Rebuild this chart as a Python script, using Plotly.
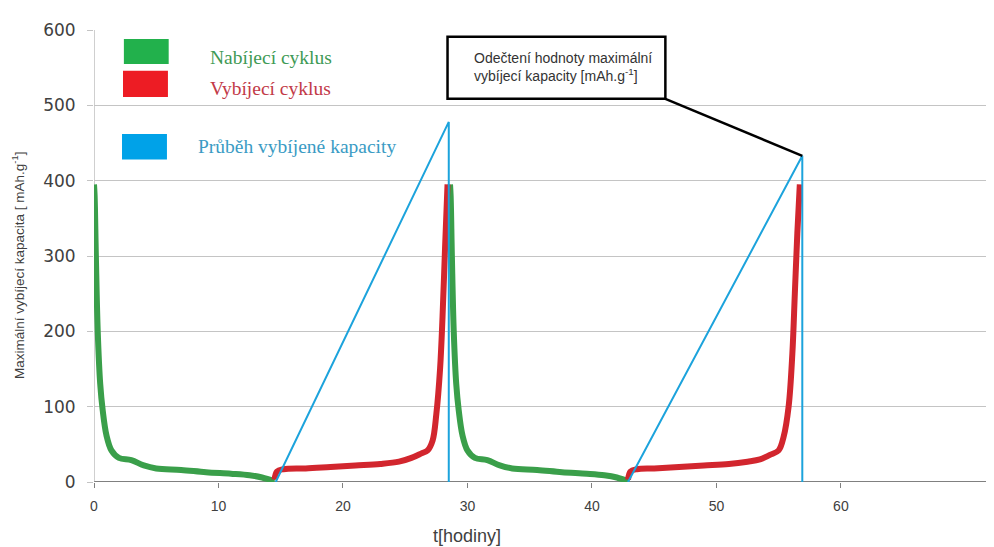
import plotly.graph_objects as go

# ---- data ----
charge1_t = [0, 0.05, 0.15, 0.3, 0.5, 0.7, 1.0, 1.4, 2.0, 3.0, 4.0, 5.0, 7.0, 9.0, 11.0, 12.5, 13.5, 14.5]
charge1_v = [395, 380, 300, 200, 130, 95, 62, 42, 32, 29, 22, 18, 16, 13, 11, 9, 6, 1]
charge2_t = [28.6, 28.65, 28.75, 28.9, 29.1, 29.3, 29.6, 30.0, 30.6, 31.6, 32.6, 33.6, 35.6, 37.6, 39.6, 41.0, 42.0, 42.9]
charge2_v = [395, 380, 300, 200, 130, 95, 62, 42, 32, 29, 22, 18, 16, 13, 11, 9, 6, 1]

discharge1_t = [14.5, 14.7, 15.2, 17, 19, 21, 23, 24.5, 25.5, 26.3, 26.8, 27.2, 27.5, 27.8, 28.0, 28.2, 28.4]
discharge1_v = [3, 14, 17, 18, 20, 22, 24, 27, 32, 38, 42, 55, 90, 150, 220, 310, 395]
discharge2_t = [42.9, 43.1, 43.6, 45, 47, 49, 51, 52.5, 53.5, 54.3, 55.0, 55.4, 55.8, 56.1, 56.3, 56.5, 56.7]
discharge2_v = [3, 14, 17, 18, 20, 22, 24, 27, 30, 36, 42, 60, 100, 170, 250, 330, 395]

capacity1_t = [14.6, 28.5, 28.5]
capacity1_v = [0, 478, 0]
capacity2_t = [42.9, 56.9, 56.9]
capacity2_v = [0, 433, 0]

x_ticks = [0, 10, 20, 30, 40, 50, 60]
y_ticks = [0, 100, 200, 300, 400, 500, 600]

GREEN = "#3a9f4a"
RED = "#d2262e"
BLUE = "#1ca3dc"

fig = go.Figure()
for t, v in [(charge1_t, charge1_v), (charge2_t, charge2_v)]:
    fig.add_trace(go.Scatter(x=t, y=v, mode="lines", line=dict(color=GREEN, width=6, shape="spline"),
                             showlegend=False, hoverinfo="skip"))
for t, v in [(discharge1_t, discharge1_v), (discharge2_t, discharge2_v)]:
    fig.add_trace(go.Scatter(x=t, y=v, mode="lines", line=dict(color=RED, width=6, shape="spline"),
                             showlegend=False, hoverinfo="skip"))
for t, v in [(capacity1_t, capacity1_v), (capacity2_t, capacity2_v)]:
    fig.add_trace(go.Scatter(x=t, y=v, mode="lines", line=dict(color=BLUE, width=2),
                             showlegend=False, hoverinfo="skip"))

# legend swatches (drawn manually)
shapes = [
    dict(type="rect", xref="x", yref="y", x0=2.4, x1=6.0, y0=555, y1=588, fillcolor="#22b14c", line=dict(width=0)),
    dict(type="rect", xref="x", yref="y", x0=2.33, x1=5.94, y0=511, y1=546, fillcolor="#ed1c24", line=dict(width=0)),
    dict(type="rect", xref="x", yref="y", x0=2.25, x1=5.86, y0=428, y1=462, fillcolor="#00a2e8", line=dict(width=0)),
    # callout box
    dict(type="rect", xref="x", yref="y", x0=28.4, x1=45.9, y0=508.6, y1=591, fillcolor="white",
         line=dict(color="black", width=2.5)),
    dict(type="line", xref="x", yref="y", x0=45.9, y0=508.6, x1=56.9, y1=433, line=dict(color="black", width=2.5)),
    # axis lines
    dict(type="line", xref="paper", yref="y", x0=0, x1=1, y0=0, y1=0, line=dict(color="#808080", width=2), layer="below"),
    dict(type="line", xref="x", yref="paper", x0=0, x1=0, y0=0, y1=1, line=dict(color="#a0a0a0", width=1), layer="below"),
]

serif = "Liberation Serif, Times New Roman, serif"
sans = "Liberation Sans, Arial, sans-serif"
annotations = [
    dict(x=9.16, y=564, xref="x", yref="y", text="Nabíjecí cyklus", showarrow=False, xanchor="left",
         font=dict(family=serif, size=19.5, color="#3f9a55")),
    dict(x=9.16, y=522, xref="x", yref="y", text="Vybíjecí cyklus", showarrow=False, xanchor="left",
         font=dict(family=serif, size=19.5, color="#c23a48")),
    dict(x=8.2, y=445, xref="x", yref="y", text="Průběh vybíjené kapacity", showarrow=False, xanchor="left",
         font=dict(family=serif, size=19.5, color="#3a9bc4")),
    dict(x=30.4, y=551, xref="x", yref="y",
         text="Odečtení hodnoty maximální<br>vybíjecí kapacity [mAh.g<sup>-1</sup>]",
         showarrow=False, xanchor="left", align="left",
         font=dict(family=sans, size=14, color="#333333")),
    # axis titles
    dict(x=30.0, xref="x", y=-0.1195, yref="paper", text="t[hodiny]", showarrow=False,
         xanchor="center", yanchor="middle", font=dict(family=sans, size=18, color="#404040")),
    dict(x=-0.0844, xref="paper", y=288, yref="y", text="Maximální vybíjecí kapacita [ mAh.g<sup>-1</sup>]",
         textangle=-90, showarrow=False, xanchor="center", yanchor="middle",
         font=dict(family=sans, size=13.5, color="#404040")),
]

fig.update_layout(
    width=986, height=539,
    margin=dict(l=86, r=0, t=22, b=65),
    paper_bgcolor="white", plot_bgcolor="white",
    shapes=shapes, annotations=annotations,
    font=dict(family=sans, color="#404040"),
    xaxis=dict(range=[0, 72.3], tickvals=x_ticks, ticktext=[str(v) for v in x_ticks],
               automargin=False,
               showgrid=False, zeroline=False, showline=False,
               ticks="outside", ticklen=5, tickcolor="#808080",
               ticklabelstandoff=6,
               tickfont=dict(family=sans, size=14, color="#404040")),
    yaxis=dict(range=[0, 600], tickvals=y_ticks, showgrid=True, gridcolor="#c4c4c4", gridwidth=1,
               automargin=False,
               zeroline=False, showline=False, ticks="outside", ticklen=6, tickcolor="#c4c4c4",
               ticklabelstandoff=8,
               tickfont=dict(family="DejaVu Sans, sans-serif", size=17, color="#404040")),
)

fig.write_html("out.html")
